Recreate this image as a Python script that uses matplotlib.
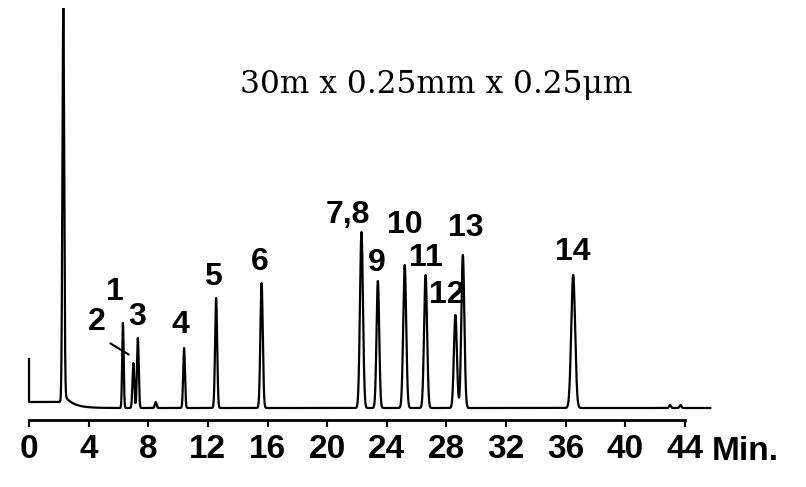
import numpy as np
import matplotlib.pyplot as plt

# peak table (retention time in min, height in detector units)
peak_labels = ['1', '2', '3', '4', '5', '6', '7,8', '9', '10', '11', '12', '13', '14']
retention = [6.3, 7.0, 7.3, 10.4, 12.55, 15.6, 22.3, 23.4, 25.2, 26.6, 28.6, 29.1, 36.5]
heights = [85, 45, 70, 60, 110, 125, 176, 127, 143, 133, 93, 153, 133]
widths = [0.05, 0.06, 0.06, 0.06, 0.07, 0.08, 0.1, 0.09, 0.1, 0.1, 0.1, 0.1, 0.13]

# solvent and minor peaks
solvent_rt = 2.3
solvent_height = 388
injection_spike = 49
minor_rt = [8.5, 43.0, 43.7]
minor_heights = [6, 3, 3]

ticks = [0, 4, 8, 12, 16, 20, 24, 28, 32, 36, 40, 44]
column = '30m x 0.25mm x 0.25\u03bcm'

# label placement (data coords)
label_x = [5.77, 4.56, 7.25, 10.13, 12.35, 15.5, 21.4, 23.3, 25.2, 26.6, 28.05, 29.3, 36.5]
label_y = [116, 86, 91, 83, 131, 146, 193, 145, 183, 150, 113, 180, 156]

# build the trace
t = np.arange(0, 45.7, 0.005)
signal = np.where(t < solvent_rt, 6.0, 0.0)
signal += solvent_height * np.exp(-0.5 * ((t - solvent_rt) / 0.06) ** 2)
signal += np.where(t > solvent_rt, 14 * np.exp(-(t - solvent_rt) / 0.6), 0)
for rt, h, w in zip(retention, heights, widths):
    signal += h * np.exp(-0.5 * ((t - rt) / w) ** 2)
for rt, h in zip(minor_rt, minor_heights):
    signal += h * np.exp(-0.5 * ((t - rt) / 0.06) ** 2)
x = np.concatenate([[0], t])
y = np.concatenate([[injection_spike], signal])

bold_font = ['Liberation Sans', 'DejaVu Sans']

fig = plt.figure(figsize=(8.06, 4.87), dpi=100)
ax = fig.add_axes([14.1 / 806, 59 / 487, 700.7 / 806, 420 / 487])
ax.plot(x, y, color='black', lw=1.6)

ax.set_xlim(-1, 46)
ax.set_ylim(-20, 400)

for s in ['top', 'right', 'left']:
    ax.spines[s].set_visible(False)
ax.spines['bottom'].set_position(('data', -12))
ax.spines['bottom'].set_bounds(0, 44)
ax.spines['bottom'].set_linewidth(2)
ax.set_yticks([])
ax.set_xticks(ticks)
ax.set_xticklabels([str(v) for v in ticks], family=bold_font,
                   fontweight='bold', fontsize=24)
ax.tick_params(axis='x', direction='out', length=5, width=1.5, pad=5)

ax.text(45.8, -43, 'Min.', family=bold_font, fontweight='bold', fontsize=24,
        ha='left', va='center')

for lab, lx, ly in zip(peak_labels, label_x, label_y):
    ax.text(lx, ly, lab, family=bold_font, fontweight='bold', fontsize=23,
            ha='center', va='center')
ax.annotate('', xy=(6.85, 52), xytext=(5.3, 66),
            arrowprops=dict(arrowstyle='-', lw=1.5, color='black'))

ax.text(27.3, 323, column, family='DejaVu Serif', fontsize=22.5,
        ha='center', va='center')

fig.savefig('out.png', dpi=100)
